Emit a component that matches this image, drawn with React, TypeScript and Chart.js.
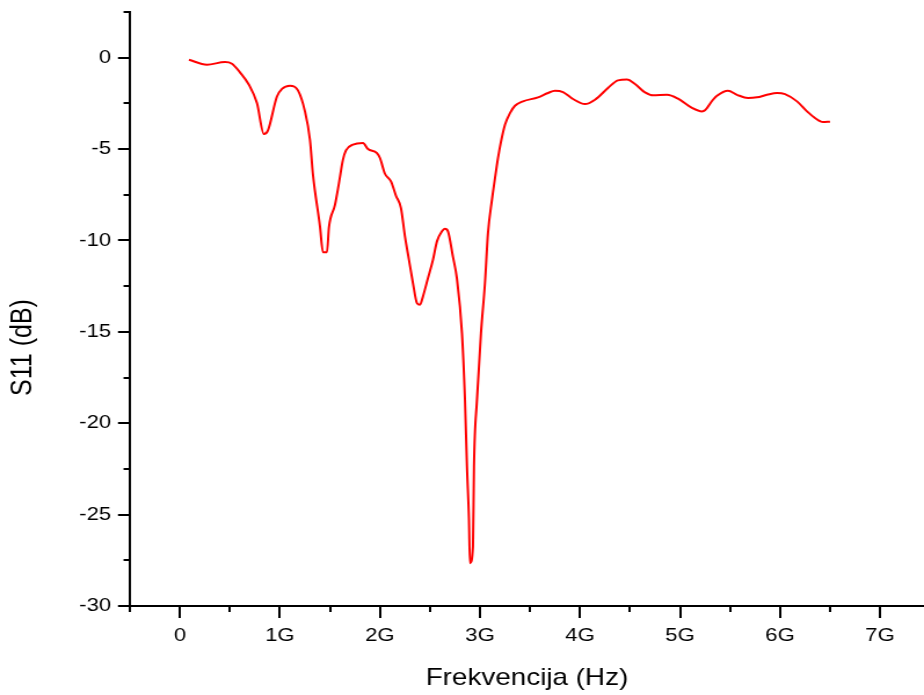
import React, { useEffect, useRef } from "react";
import { Chart, registerables } from "chart.js";

Chart.register(...registerables);

// Frequency in GHz
const freqGHz = [
  0.09, 0.27, 0.45, 0.52, 0.6, 0.69, 0.77, 0.84, 0.88, 0.97, 1.02, 1.1, 1.18, 1.25, 1.3, 1.33,
  1.4, 1.43, 1.47, 1.49, 1.55, 1.59, 1.63, 1.66, 1.73, 1.83, 1.88, 1.97, 2.0, 2.05, 2.11, 2.16,
  2.21, 2.25, 2.29, 2.33, 2.37, 2.4, 2.43, 2.48, 2.53, 2.57, 2.62, 2.65, 2.68, 2.73, 2.77, 2.82,
  2.85, 2.87, 2.89, 2.9, 2.93, 2.94, 2.97, 3.01, 3.05, 3.08, 3.12, 3.15, 3.18, 3.21, 3.25, 3.3,
  3.35, 3.43, 3.58, 3.68, 3.75, 3.83, 3.93, 4.05, 4.15, 4.28, 4.38, 4.47, 4.55, 4.65, 4.73, 4.87,
  4.98, 5.12, 5.22, 5.25, 5.33, 5.37, 5.48, 5.57, 5.68, 5.77, 5.87, 5.97, 6.05, 6.17, 6.27, 6.35,
  6.43, 6.5,
];
// S11 in dB
const s11dB = [
  -0.11, -0.38, -0.24, -0.33, -0.8, -1.48, -2.48, -4.18, -3.98, -2.12, -1.71, -1.53, -1.79, -2.94, -4.49, -6.4,
  -9.23, -10.64, -10.64, -9.27, -8.05, -6.86, -5.58, -5.07, -4.76, -4.67, -5.0, -5.22, -5.49, -6.35, -6.77, -7.55,
  -8.23, -9.78, -11.06, -12.33, -13.43, -13.52, -13.06, -12.06, -11.06, -10.05, -9.5, -9.36, -9.5, -10.9, -12.1, -15.07,
  -18.72, -22.37, -25.29, -27.66, -26.75, -22.37, -18.72, -15.07, -12.33, -9.6, -7.77, -6.6, -5.5, -4.6, -3.67, -3.03,
  -2.63, -2.39, -2.17, -1.93, -1.81, -1.88, -2.26, -2.54, -2.3, -1.66, -1.24, -1.2, -1.44, -1.9, -2.06, -2.03,
  -2.24, -2.75, -2.94, -2.88, -2.3, -2.08, -1.81, -2.03, -2.21, -2.17, -2.03, -1.93, -1.99, -2.39, -2.94, -3.3,
  -3.52, -3.5,
];

const xMajorTicks = [0, 1, 2, 3, 4, 5, 6, 7];
const xMinorTicks = [-0.5, 0.5, 1.5, 2.5, 3.5, 4.5, 5.5, 6.5];
const yMajorTicks = [0, -5, -10, -15, -20, -25, -30];
const yMinorTicks = [2.5, -2.5, -7.5, -12.5, -17.5, -22.5, -27.5];

const X_TITLE = "Frekvencija (Hz)";
const Y_TITLE = "S11 (dB)";

const STRETCH = 1.16;
const OUT_W = 924;
const OUT_H = 695;
const IN_W = Math.round(OUT_W / STRETCH);
const FONT = "'Liberation Sans', Arial, Helvetica, sans-serif";

export default function App() {
  const ref = useRef<HTMLCanvasElement | null>(null);

  useEffect(() => {
    if (!ref.current) return;
    const points = freqGHz.map((f, i) => ({ x: f, y: s11dB[i] }));

    const extras = {
      id: "extras",
      afterDraw(chart: any) {
        const { ctx } = chart;
        const xs = chart.scales.x;
        const ys = chart.scales.y;
        ctx.save();
        ctx.strokeStyle = "#000";
        ctx.lineWidth = 2;
        ctx.beginPath();
        for (const v of xMinorTicks) {
          const px = Math.round(xs.getPixelForValue(v));
          ctx.moveTo(px, xs.top);
          ctx.lineTo(px, xs.top + 6);
        }
        for (const v of yMinorTicks) {
          const py = Math.round(ys.getPixelForValue(v));
          ctx.moveTo(ys.right, py);
          ctx.lineTo(ys.right - 5.5, py);
        }
        ctx.stroke();
        ctx.fillStyle = "#000";
        ctx.font = `25px ${FONT}`;
        ctx.textAlign = "center";
        ctx.textBaseline = "middle";
        ctx.translate(20.5, chart.height / 2);
        ctx.rotate(-Math.PI / 2);
        ctx.fillText(Y_TITLE, 0, 0);
        ctx.restore();
      },
    };

    const chart = new Chart(ref.current, {
      type: "line",
      data: {
        datasets: [
          {
            data: points,
            borderColor: "#ff0000",
            borderWidth: 2,
            pointRadius: 0,
            cubicInterpolationMode: "monotone",
            fill: false,
          },
        ],
      },
      options: {
        responsive: false,
        devicePixelRatio: 1,
        animation: false,
        layout: { padding: { top: 12, right: 0, bottom: 0, left: 0 } },
        plugins: { legend: { display: false }, tooltip: { enabled: false } },
        scales: {
          x: {
            type: "linear",
            min: -0.5,
            max: 7.44,
            afterBuildTicks: (s: any) => {
              s.ticks = xMajorTicks.map((v) => ({ value: v }));
            },
            afterFit: (s: any) => {
              s.height = 89;
              s.paddingLeft = 0;
              s.paddingRight = 0;
            },
            grid: { display: true, drawOnChartArea: false, drawTicks: true, tickLength: 12, color: "#000", lineWidth: 2 },
            border: { display: true, color: "#000", width: 2 },
            ticks: {
              color: "#000",
              font: { family: FONT, size: 19 },
              padding: 6,
              maxRotation: 0,
              autoSkip: false,
              callback: (v: any) => (v === 0 ? "0" : `${v}G`),
            },
            title: {
              display: true,
              text: X_TITLE,
              color: "#000",
              font: { family: FONT, size: 24 },
              padding: { top: 0, bottom: 2 },
            },
          },
          y: {
            type: "linear",
            min: -30,
            max: 2.5,
            afterBuildTicks: (s: any) => {
              s.ticks = yMajorTicks.map((v) => ({ value: v }));
            },
            afterFit: (s: any) => {
              s.width = 130 / STRETCH;
              s.paddingTop = 0;
              s.paddingBottom = 0;
            },
            grid: { display: true, drawOnChartArea: false, drawTicks: true, tickLength: 10.3, color: "#000", lineWidth: 2 },
            border: { display: true, color: "#000", width: 2 },
            ticks: {
              color: "#000",
              font: { family: FONT, size: 19 },
              padding: 6,
              autoSkip: false,
              callback: (v: any) => String(v),
            },
          },
        },
      },
      plugins: [extras],
    } as any);

    return () => chart.destroy();
  }, []);

  return (
    <div style={{ position: "absolute", left: 0, top: 0, width: OUT_W, height: OUT_H, background: "#fff" }}>
      <canvas
        ref={ref}
        width={IN_W}
        height={OUT_H}
        style={{ width: `${OUT_W}px`, height: `${OUT_H}px`, display: "block" }}
      />
    </div>
  );
}
